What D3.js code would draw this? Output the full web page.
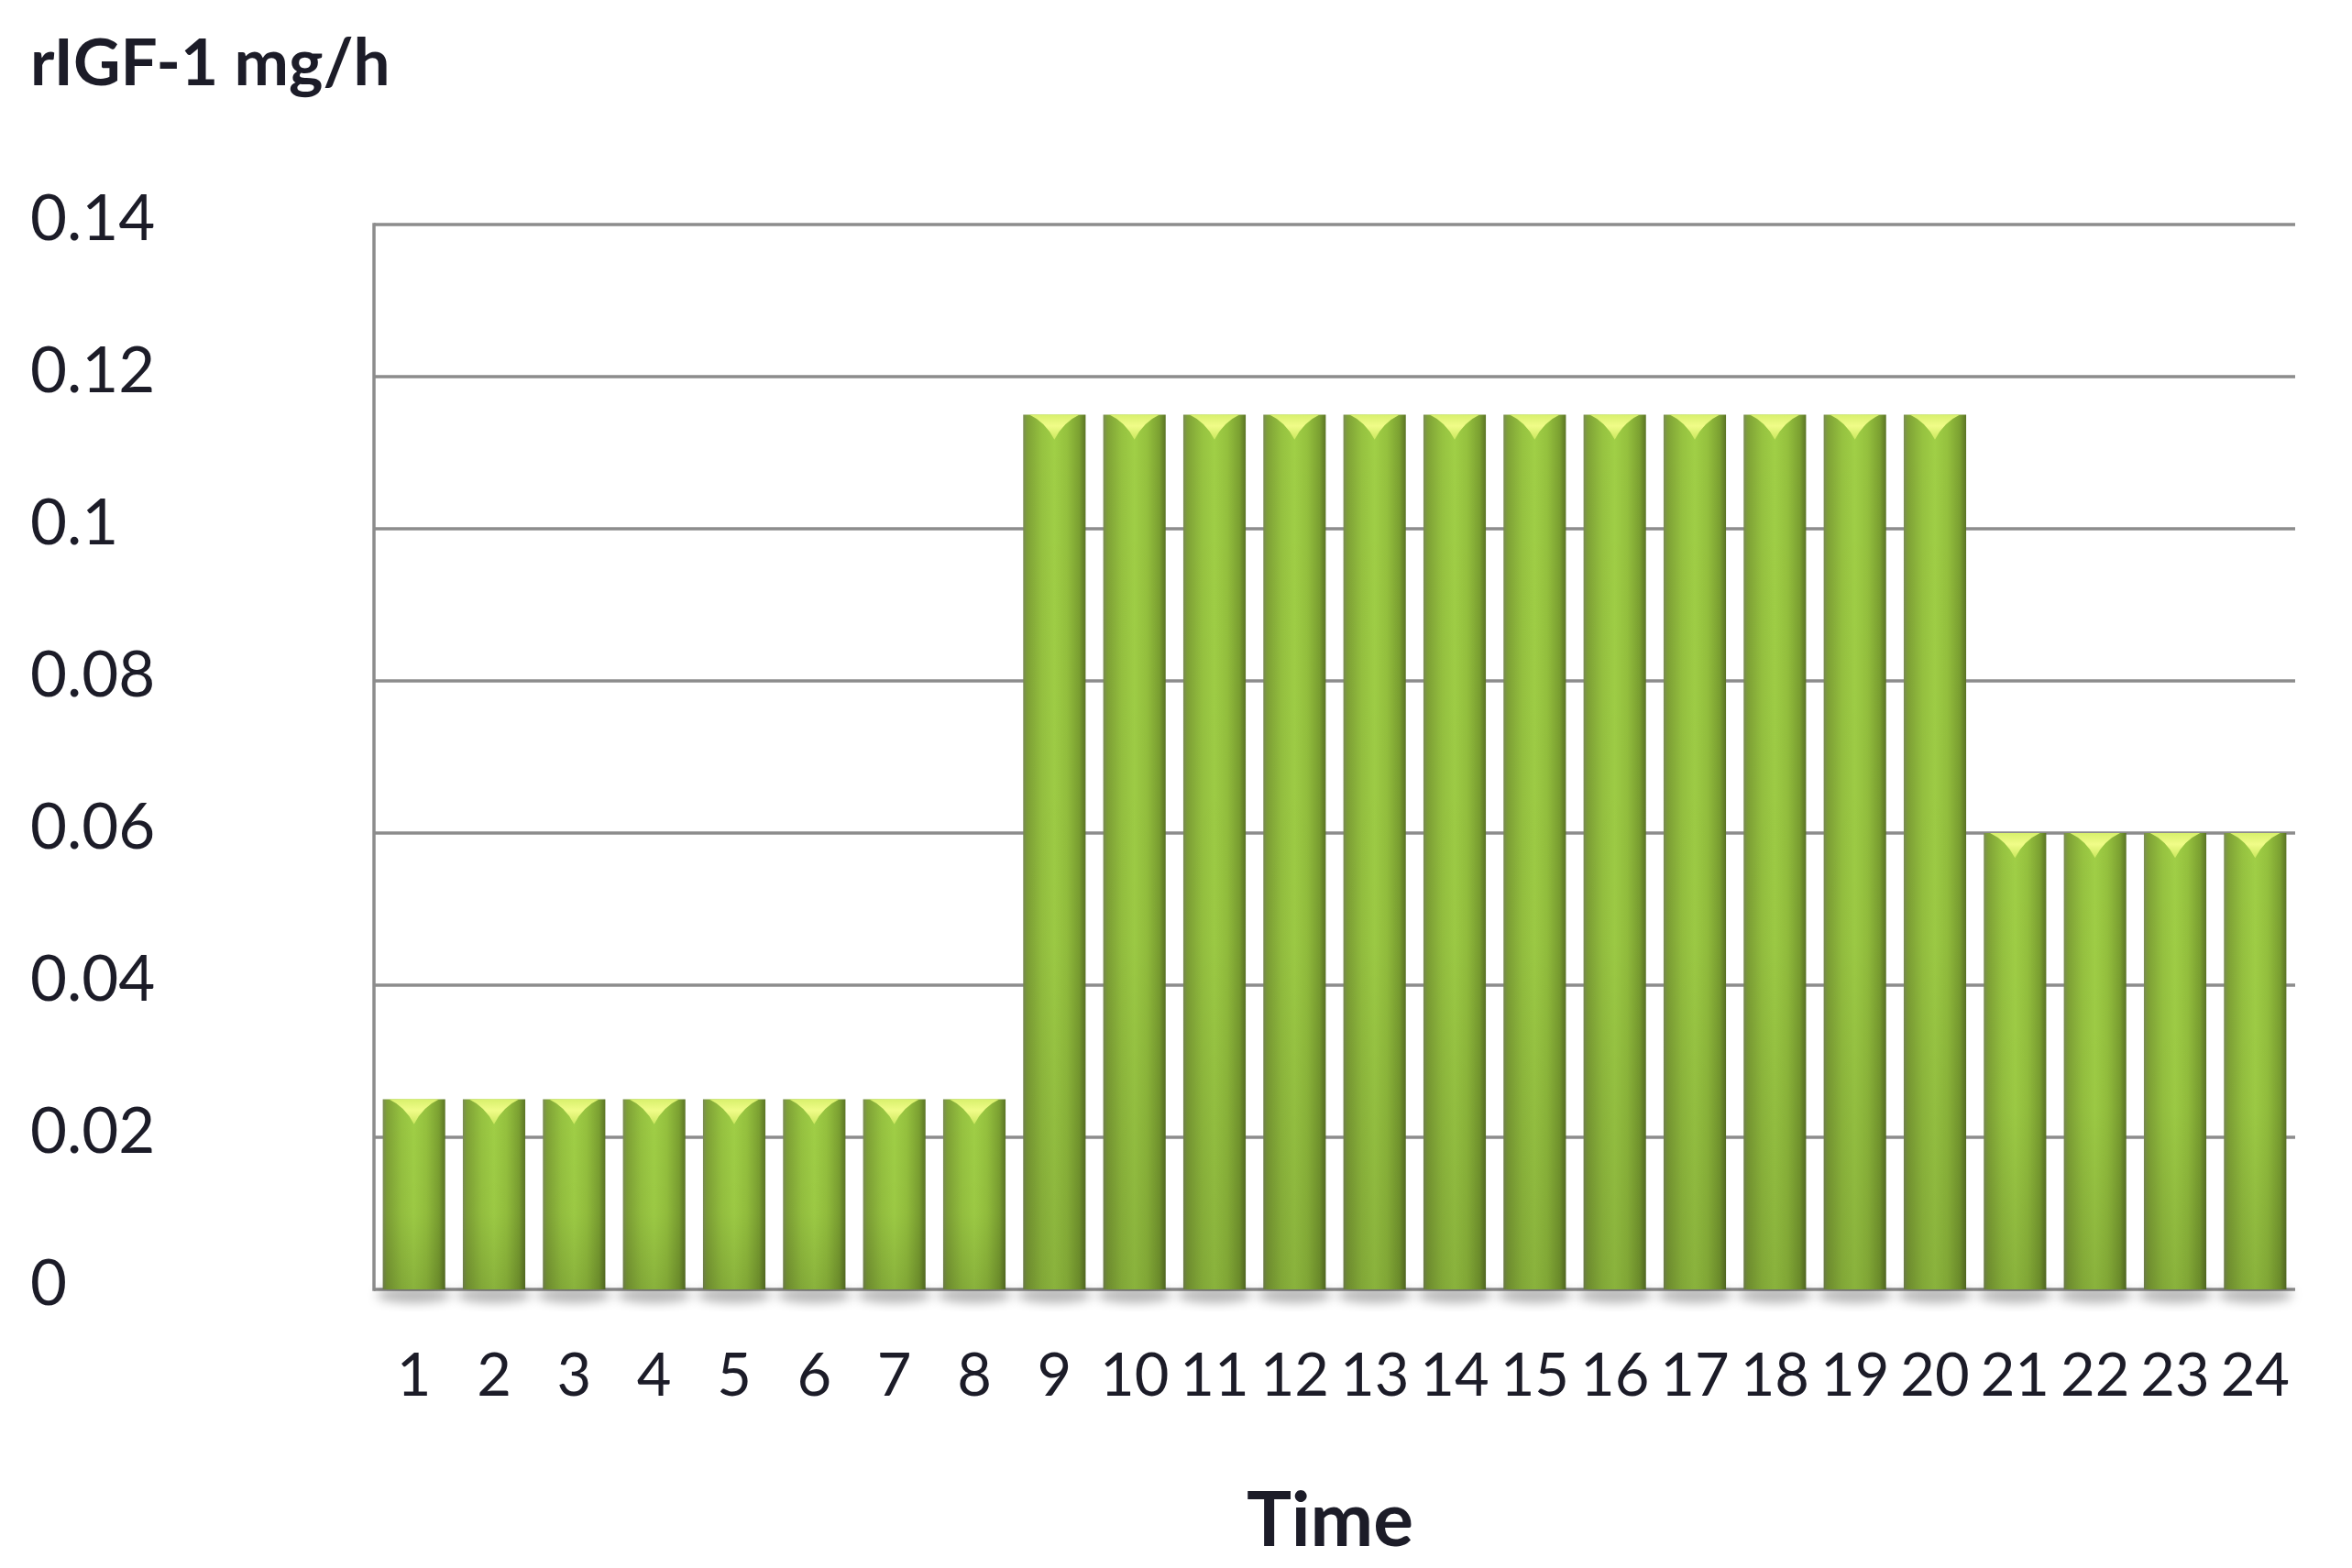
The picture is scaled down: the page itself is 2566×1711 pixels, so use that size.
<!DOCTYPE html>
<html>
<head>
<meta charset="utf-8">
<script src="https://cdn.jsdelivr.net/npm/d3@7"></script>
<style>
  body { margin: 0; background: #fff; }
  svg { display: block; }
  text { font-family: Lato, "Open Sans", sans-serif; fill: #1c1c28; }
</style>
</head>
<body>
<div id="chart"></div>
<script>
// data
var hours = ['1','2','3','4','5','6','7','8','9','10','11','12',
             '13','14','15','16','17','18','19','20','21','22','23','24'];
var rate = [0.025, 0.025, 0.025, 0.025, 0.025, 0.025, 0.025, 0.025,
            0.115, 0.115, 0.115, 0.115, 0.115, 0.115, 0.115, 0.115,
            0.115, 0.115, 0.115, 0.115, 0.06, 0.06, 0.06, 0.06];
var yTicks = [0, 0.02, 0.04, 0.06, 0.08, 0.1, 0.12, 0.14];

var W = 2566, H = 1711;
var margin = { top: 245, right: 62, bottom: 304, left: 408 };
var width = W - margin.left - margin.right;
var height = H - margin.top - margin.bottom;

var svg = d3.select('#chart').append('svg')
    .attr('width', W)
    .attr('height', H);

var defs = svg.append('defs');

// cylinder-ish shading across the bar
var grad = defs.append('linearGradient').attr('id', 'barGrad')
    .attr('x1', '0%').attr('x2', '100%').attr('y1', '0%').attr('y2', '0%');
[[0, '#7b8c55'], [0.07, '#7fa236'], [0.3, '#96c240'], [0.5, '#a0cf46'],
 [0.7, '#95c13e'], [0.9, '#7ba031'], [1, '#5b7426']].forEach(function(s) {
    grad.append('stop').attr('offset', s[0]).attr('stop-color', s[1]);
});

var shade = defs.append('linearGradient').attr('id', 'barShade')
    .attr('x1', '0%').attr('x2', '0%').attr('y1', '0%').attr('y2', '100%');
shade.append('stop').attr('offset', 0).attr('stop-color', '#000').attr('stop-opacity', 0);
shade.append('stop').attr('offset', 0.6).attr('stop-color', '#000').attr('stop-opacity', 0.03);
shade.append('stop').attr('offset', 1).attr('stop-color', '#000').attr('stop-opacity', 0.14);

var capGrad = defs.append('linearGradient').attr('id', 'capGrad')
    .attr('x1', '0%').attr('x2', '0%').attr('y1', '0%').attr('y2', '100%');
capGrad.append('stop').attr('offset', 0).attr('stop-color', '#d8f06c');
capGrad.append('stop').attr('offset', 0.45).attr('stop-color', '#f0fc88');
capGrad.append('stop').attr('offset', 1).attr('stop-color', '#cbe85e');

var blur = defs.append('filter').attr('id', 'soft')
    .attr('x', '-50%').attr('y', '-50%').attr('width', '200%').attr('height', '200%');
blur.append('feGaussianBlur').attr('stdDeviation', 6);

var g = svg.append('g')
    .attr('transform', 'translate(' + margin.left + ',' + margin.top + ')');

var x = d3.scaleBand()
    .domain(hours)
    .range([0, width])
    .paddingInner(0.22)
    .paddingOuter(0.11);

var y = d3.scaleLinear()
    .domain([0, 0.14])
    .range([height, 0]);

// gridlines
g.append('g')
    .selectAll('line')
    .data(yTicks)
    .enter()
    .append('line')
    .attr('x1', 0)
    .attr('x2', width)
    .attr('y1', function(d) { return y(d); })
    .attr('y2', function(d) { return y(d); })
    .style('stroke', '#8c8c8c')
    .style('stroke-width', 3.5);

// left axis line
g.append('line')
    .attr('x1', 0).attr('x2', 0)
    .attr('y1', y(0.14) - 1.75).attr('y2', y(0) + 1.75)
    .style('stroke', '#8c8c8c')
    .style('stroke-width', 3.5);

// soft shadows under bars
g.append('g')
    .selectAll('ellipse')
    .data(rate)
    .enter()
    .append('ellipse')
    .attr('cx', function(d, i) { return x(hours[i]) + x.bandwidth() / 2; })
    .attr('cy', y(0) + 6)
    .attr('rx', x.bandwidth() * 0.6)
    .attr('ry', 9)
    .attr('filter', 'url(#soft)')
    .style('fill', 'rgba(0,0,0,0.28)');

var bars = g.append('g')
    .selectAll('g')
    .data(rate)
    .enter()
    .append('g');

bars.append('rect')
    .attr('x', function(d, i) { return x(hours[i]); })
    .attr('y', function(d) { return y(d); })
    .attr('width', x.bandwidth())
    .attr('height', function(d) { return y(0) - y(d); })
    .style('fill', 'url(#barGrad)');

bars.append('rect')
    .attr('x', function(d, i) { return x(hours[i]); })
    .attr('y', function(d) { return y(d); })
    .attr('width', x.bandwidth())
    .attr('height', function(d) { return y(0) - y(d); })
    .style('fill', 'url(#barShade)');

// yellowish highlight on the top of each bar
bars.append('path')
    .attr('d', function(d, i) {
        var w = x.bandwidth(), x0 = x(hours[i]), t = y(d);
        return 'M' + (x0 + 0.1 * w) + ',' + t +
            ' L' + (x0 + 0.9 * w) + ',' + t +
            ' Q' + (x0 + 0.64 * w) + ',' + (t + 0.12 * w) + ' ' + (x0 + 0.5 * w) + ',' + (t + 0.4 * w) +
            ' Q' + (x0 + 0.36 * w) + ',' + (t + 0.12 * w) + ' ' + (x0 + 0.1 * w) + ',' + t + 'Z';
    })
    .style('fill', 'url(#capGrad)');

// y tick labels, left aligned like the original
svg.append('g')
    .selectAll('text')
    .data(yTicks)
    .enter()
    .append('text')
    .attr('x', 33)
    .attr('y', function(d) { return margin.top + y(d) + 17; })
    .style('font-size', '69px')
    .text(function(d) { return d === 0 ? '0' : String(d); });

// x tick labels
g.append('g')
    .selectAll('text')
    .data(hours)
    .enter()
    .append('text')
    .attr('x', function(d) { return x(d) + x.bandwidth() / 2; })
    .attr('y', height + 116)
    .attr('text-anchor', 'middle')
    .style('font-size', '65px')
    .text(function(d) { return d; });

// titles
svg.append('text')
    .attr('x', 33)
    .attr('y', 93)
    .style('font-size', '71px')
    .style('font-weight', 'bold')
    .text('rIGF-1 mg/h');

svg.append('text')
    .attr('x', margin.left + width / 2 - 5)
    .attr('y', 1687)
    .attr('text-anchor', 'middle')
    .style('font-size', '82px')
    .style('font-weight', 'bold')
    .text('Time');
</script>
</body>
</html>
